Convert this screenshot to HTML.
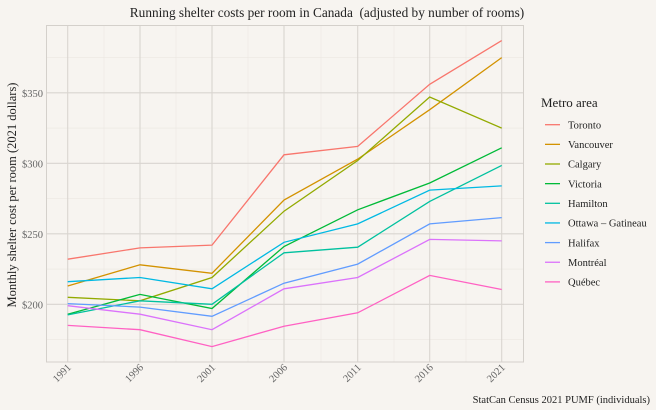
<!DOCTYPE html>
<html><head><meta charset="utf-8"><style>
html,body{margin:0;padding:0;background:#f7f4f0;}
svg{display:block;font-family:"Liberation Serif",serif;}
</style></head><body>
<svg width="656" height="410" viewBox="0 0 656 410" xmlns="http://www.w3.org/2000/svg">
<rect width="656" height="410" fill="#f7f4f0"/>
<g id="grid"></g>
<rect x="46.5" y="25.5" width="477" height="336.5" fill="none" stroke="#d4d0cb" stroke-width="1"/>
<g id="series" fill="none" stroke-width="1.3"></g>
<text x="327" y="17" font-size="13.3" text-anchor="middle" fill="#222">Running shelter costs per room in Canada&#160; (adjusted by number of rooms)</text>
<text transform="translate(16,195) rotate(-90)" font-size="12.5" text-anchor="middle" fill="#222">Monthly shelter cost per room (2021 dollars)</text>
<g font-size="10.5" fill="#666" text-anchor="end">
<text x="43" y="97">$350</text><text x="43" y="167.5">$300</text><text x="43" y="238">$250</text><text x="43" y="308.5">$200</text>
</g>
<g id="xl" font-size="10.5" fill="#666" text-anchor="end"></g>
<text x="541" y="107" font-size="13" fill="#222">Metro area</text>
<g id="leg" font-size="10.5" fill="#222"></g>
<text x="650" y="403" font-size="10.5" text-anchor="end" fill="#222">StatCan Census 2021 PUMF (individuals)</text>
</svg>
<script>
var ns="http://www.w3.org/2000/svg";
function el(t,a,p){var e=document.createElementNS(ns,t);for(var k in a)e.setAttribute(k,a[k]);p.appendChild(e);return e;}
var xs=[67.7,140,212,284,357.7,429.7,501.7];
function Y(v){return 304.3-(v-200)*1.41;}
var g=document.getElementById('grid');
[175,225,275,325,375].forEach(function(v){var y=Y(v);if(y>26&&y<362)el('line',{x1:46.5,x2:523.5,y1:y,y2:y,stroke:'#ebe7e2','stroke-width':0.6},g);});
[104,176,248,321,394,466].forEach(function(x){el('line',{x1:x,x2:x,y1:26,y2:362,stroke:'#ebe7e2','stroke-width':0.6},g);});
[200,250,300,350].forEach(function(v){var y=Y(v);el('line',{x1:46.5,x2:523.5,y1:y,y2:y,stroke:'#d9d5d0','stroke-width':1.1},g);});
xs.forEach(function(x){el('line',{x1:x,x2:x,y1:26,y2:362,stroke:'#d9d5d0','stroke-width':1.1},g);});
var xl=document.getElementById('xl');
[1991,1996,2001,2006,2011,2016,2021].forEach(function(yr,i){var t=el('text',{transform:'translate('+(xs[i]+4)+',368) rotate(-45)'},xl);t.textContent=yr;});
var data=[
["Toronto","#F8766D",[232,240,242,306,312,356,387]],
["Vancouver","#D39200",[213,228,222,274,303,338,375]],
["Calgary","#93AA00",[205,202.5,219,266,302,347,325]],
["Victoria","#00BA38",[193,207,197,241,267,286,311]],
["Hamilton","#00C19F",[192.5,202.5,200,236.5,240.5,273,298.5]],
["Ottawa – Gatineau","#00B9E3",[216,219,211,244,257,281,284]],
["Halifax","#619CFF",[200.5,198,191.5,215,228.5,257,261.5]],
["Montréal","#DB72FB",[199,193,182,211,219,246,245]],
["Québec","#FF61C3",[185,182,170,184.5,194,220.5,210.5]]];
var s=document.getElementById('series'),lg=document.getElementById('leg');
data.forEach(function(d,i){
 el('polyline',{points:d[2].map(function(v,j){return xs[j]+','+Y(v).toFixed(1);}).join(' '),stroke:d[1]},s);
 var y=124.7+i*19.65;
 el('line',{x1:545,x2:560,y1:y,y2:y,stroke:d[1],'stroke-width':1.3},lg);
 var t=el('text',{x:568,y:y+3.7},lg);t.textContent=d[0];
});
</script>
</body></html>
